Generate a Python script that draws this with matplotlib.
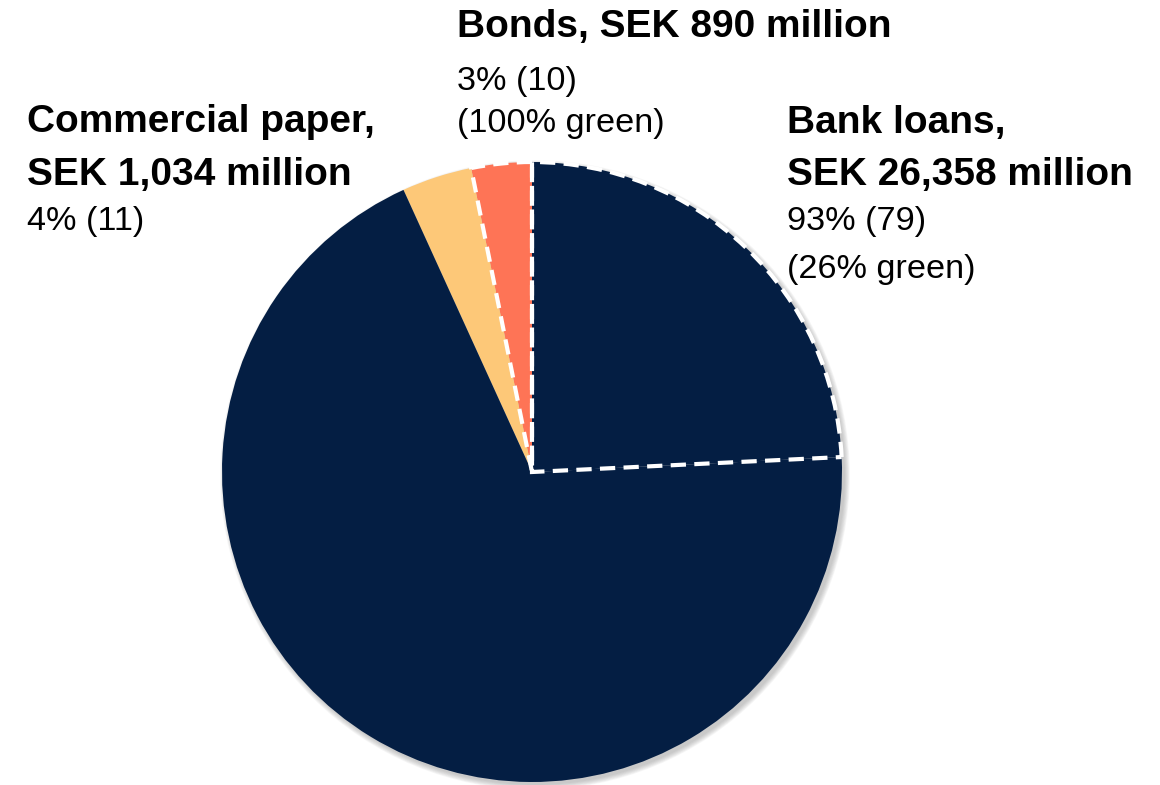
import matplotlib
matplotlib.use('Agg')
import matplotlib.pyplot as plt
from matplotlib.patches import Circle, Wedge

plt.rcParams['font.family'] = ['Liberation Sans', 'DejaVu Sans']
plt.rcParams['lines.scale_dashes'] = False

# loan portfolio, SEK million
categories = ['Bonds', 'Commercial paper', 'Bank loans']
amounts = [890, 1034, 26358]
shares = ['3% (10)', '4% (11)', '93% (79)']
green_notes = ['(100% green)', None, '(26% green)']
bank_green_share = 0.26

navy = '#041E43'
colors = {'Bonds': '#FE7456', 'Commercial paper': '#FDC878', 'Bank loans': navy}

W, H = 1160, 785
fig = plt.figure(figsize=(W / 100, H / 100), dpi=100)
ax = fig.add_axes([0, 0, 1, 1])

cx, cy, r = 532, H - 472, 310

# soft shadow under the pie
for k in range(7):
    ax.add_patch(Circle((cx + 3, cy - 3), r + k * 0.8, color='#808080',
                        alpha=0.07, lw=0, zorder=0))

# bank loans split into the non-green and green part
bank = amounts[2]
values = [amounts[0], amounts[1], bank * (1 - bank_green_share), bank * bank_green_share]
wcols = [colors['Bonds'], colors['Commercial paper'], navy, navy]
wedges, _ = ax.pie(values, colors=wcols, startangle=90, counterclock=True,
                   center=(cx, cy), radius=r, frame=True,
                   wedgeprops=dict(linewidth=0))

# dashed outline around the green financing
for w in (wedges[0], wedges[3]):
    ax.add_patch(Wedge((cx, cy), r, w.theta1, w.theta2, fill=False,
                       edgecolor='white', lw=3.0, linestyle=(0, (11, 6)),
                       zorder=5))

ax.set_xlim(0, W)
ax.set_ylim(0, H)
ax.set_aspect('equal')
ax.axis('off')

bold = dict(fontsize=28, fontweight='bold', color='black', ha='left', va='baseline')
reg = dict(fontsize=24.7, color='black', ha='left', va='baseline')

# Bonds label
ax.text(457, H - 37, 'Bonds, SEK 890 million', **bold)
ax.text(457, H - 90, shares[0], **reg)
ax.text(457, H - 132, green_notes[0], **reg)

# Commercial paper label
ax.text(27, H - 132, 'Commercial paper,', **bold)
ax.text(27, H - 185, 'SEK 1,034 million', **bold)
ax.text(27, H - 230, shares[1], **reg)

# Bank loans label
ax.text(787, H - 133, 'Bank loans,', **bold)
ax.text(787, H - 185, 'SEK 26,358 million', **bold)
ax.text(787, H - 230, shares[2], **reg)
ax.text(787, H - 278, green_notes[2], **reg)

fig.savefig('out.png', dpi=100, facecolor='white')
